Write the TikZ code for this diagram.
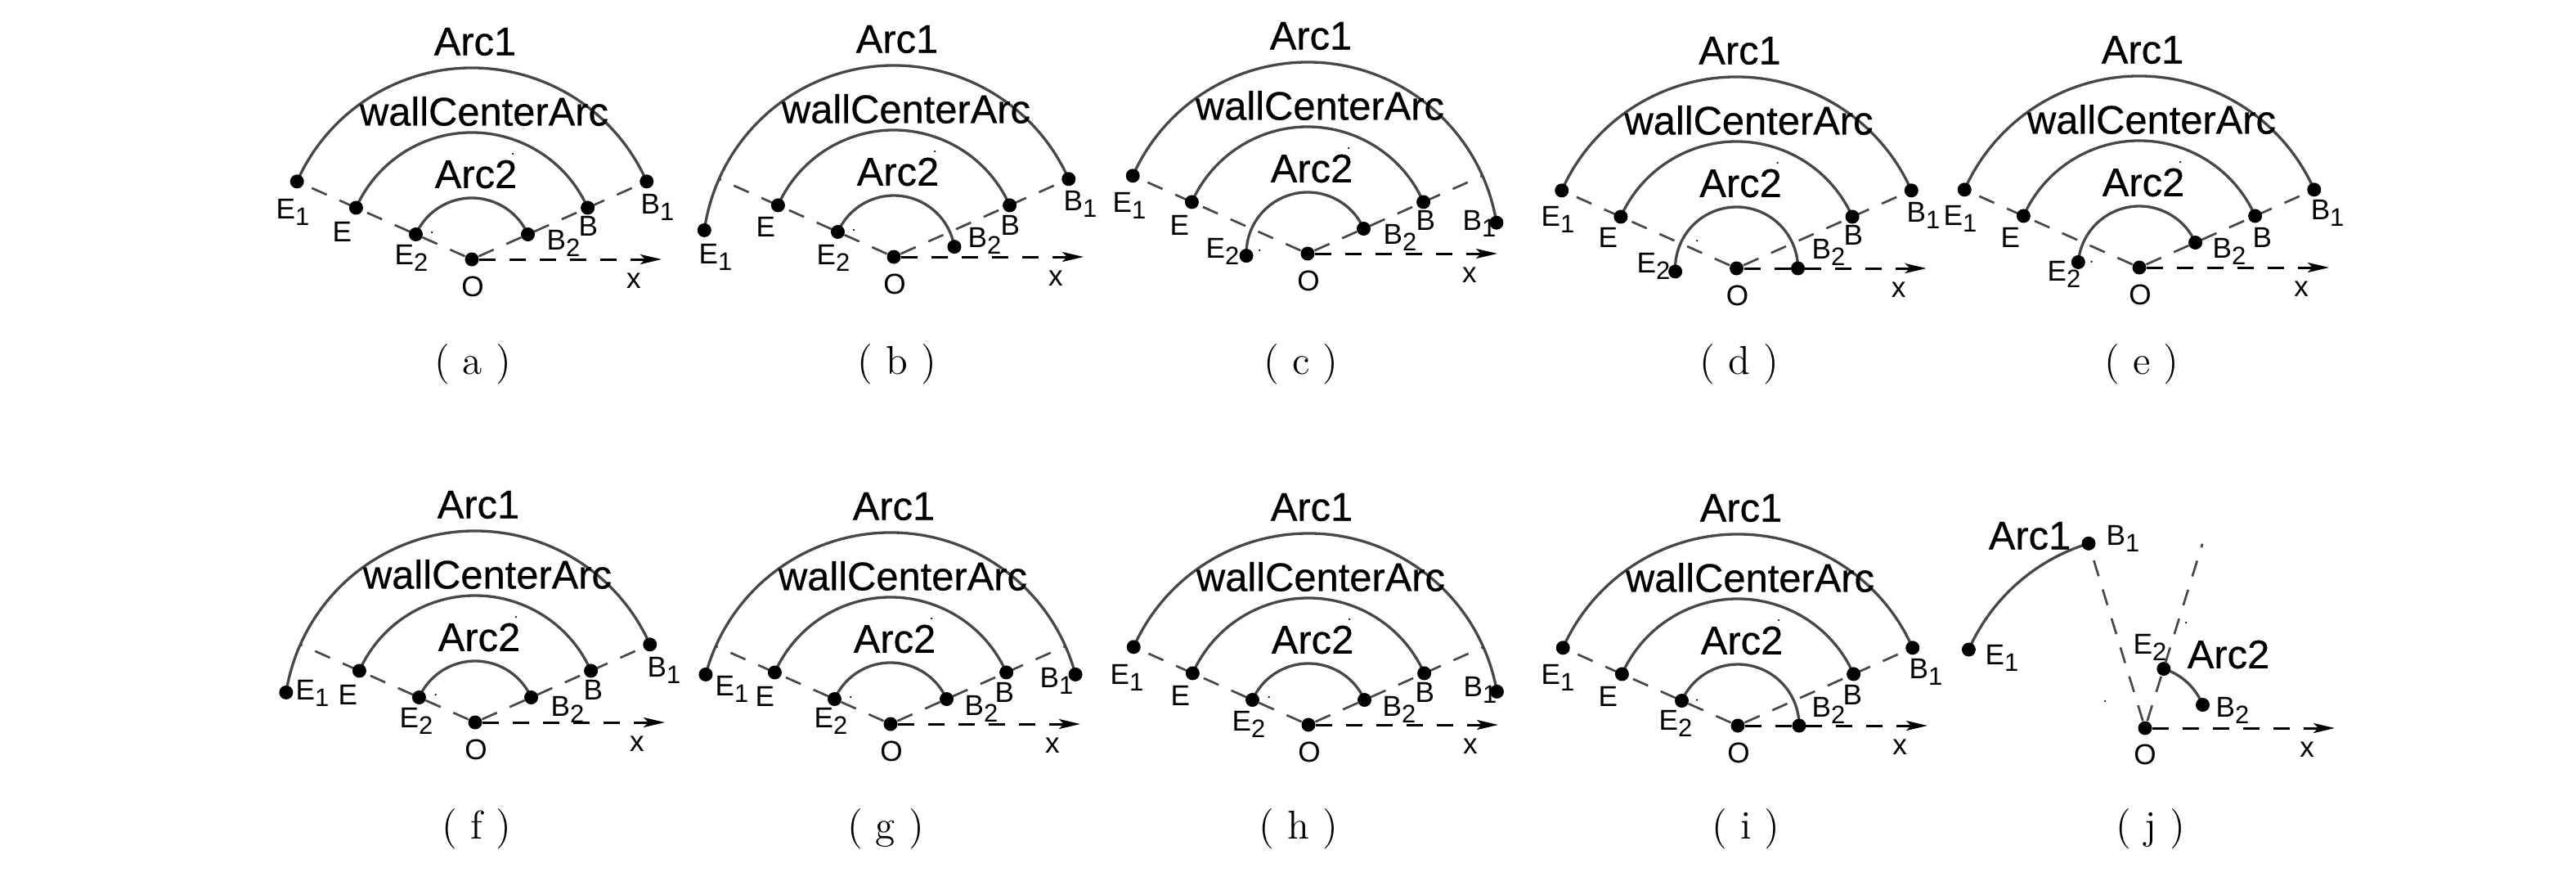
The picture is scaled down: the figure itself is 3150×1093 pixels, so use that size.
\documentclass[tikz,border=0pt]{standalone}
\usepackage{fontspec}
\setsansfont{Liberation Sans}
\newfontfamily\heavyfont{Liberation Sans}[RawFeature={embolden=0.5}]
\usetikzlibrary{arrows.meta, positioning}
\newcommand{\lab}[2]{#1\raisebox{-0.8mm}{\fontsize{8.8pt}{8.8pt}\selectfont #2}}
\tikzset{
  dot/.style={circle, fill=black, inner sep=0pt, minimum size=1.7mm},
  speck/.style={circle, fill=black, inner sep=0pt, minimum size=0.25mm},
  fan/.style={line width=0.33mm, black!72},
  ray/.style={line width=0.27mm, black!72, dash pattern=on 2mm off 1.7mm},
  axis/.style={line width=0.3mm, black, dash pattern=on 2mm off 1.7mm, -{Stealth[length=2.6mm,width=1.2mm,inset=0.6mm]}},
  biglab/.style={font=\heavyfont\fontsize{13.9pt}{14pt}\selectfont, inner sep=0pt},
  ptlab/.style={font=\sffamily\fontsize{10pt}{10pt}\selectfont, inner sep=0pt, anchor=base west},
  midlab/.style={font=\sffamily\fontsize{10pt}{10pt}\selectfont, inner sep=0pt},
  caplab/.style={font=\rmfamily\fontsize{14pt}{14pt}\selectfont, inner sep=0pt}
}
\begin{document}
\begin{tikzpicture}[x=0.1mm, y=0.1mm]
  \useasboundingbox (0,0) rectangle (3150,-1093);
  % Panels a to i: name, O, angles of E1 B1 E2 B2, speck, caption
  \foreach \p/\ox/\oy/\ea/\ba/\eb/\bb/\sa/\cx/\cy in {
    a/577/317/156/24/156/24/146/578/445,
    b/1093/314/172/24/156/9.5/146/1097/445,
    c/1599/310/156/9.3/182/24/176/1591/445,
    d/2123.5/328/156/24/183/0/145/2127/445,
    e/2616/327/156/24/175/24/173/2619/445,
    f/581/883/171/24/156/24/145/583/1013,
    g/1089/885/165/15/156/24/146/1083/1013,
    h/1600/886/156/10/156/24/145/1588/1013,
    i/2125/887/156/24/156/0/148/2135/1013} {
    \begin{scope}[shift={(\ox,-\oy)}]
      \node[dot] (\p-O) at (0,0) {};
      \coordinate (\p-X) at (232,0);
      \coordinate (\p-R) at (24:234);
      \coordinate (\p-L) at (156:234);
      % Arcs
      \draw[fan] (\ba:234) arc[start angle=\ba, end angle=\ea, radius=234];
      \draw[fan] (24:155) arc[start angle=24, end angle=156, radius=155];
      \draw[fan] (\bb:75) arc[start angle=\bb, end angle=\eb, radius=75];
      % Rays
      \draw[ray] (\p-O) -- (\p-R);
      \draw[ray] (\p-O) -- (\p-L);
      \draw[axis] (\p-O) -- (\p-X);
      % Points
      \node[dot] (\p-E1) at (\ea:234) {};
      \node[dot] (\p-B1) at (\ba:234) {};
      \node[dot] (\p-E) at (156:155) {};
      \node[dot] (\p-B) at (24:155) {};
      \node[dot] (\p-E2) at (\eb:75) {};
      \node[dot] (\p-B2) at (\bb:75) {};
      \node[speck] (\p-s1) at (50,129) {};
      \node[speck] (\p-s2) at (\sa:59) {};
      % Names
      \node[biglab] (\p-arcone) at (4,266) {Arc1};
      \node[biglab] (\p-wall) at (15,181) {wallCenterArc};
      \node[biglab] (\p-arctwo) at (5,104) {Arc2};
      \node[midlab] (\p-Olab) at (1,-33) {O};
      \node[midlab] (\p-Xlab) at (198,-26) {x};
    \end{scope}
    \node[caplab] (\p-cap) at (\cx,-\cy) {(\ \p\ )};
  }
  % Point labels: E1, E, E2, B2, B, B1
  \foreach \p/\exa/\eya/\ex/\ey/\exb/\eyb/\bxb/\byb/\bx/\by/\bxa/\bya in {
    a/337/267/406/295/482/323/668/305/707/288/783/261,
    b/854/322/924/289/998/323/1183/302/1223/287/1300/257,
    c/1360/259/1430/287/1474/315/1691/298/1731/281/1788/281,
    d/1884/276/1954/302/2001/333/2215/316/2254/299/2331/271,
    e/2376/275/2446/302/2503/343/2705/315/2754/302/2825/268,
    f/361/855/413/861/488/889/673/875/713/855/791/827,
    g/874/850/923/863/995/889/1179/874/1216/858/1271/840,
    h/1357/836/1431/862/1506/893/1690/875/1730/858/1789/851,
    i/1884/836/1954/863/2028/892/2215/876/2253/861/2334/829} {
    \node[ptlab] (\p-E1lab) at (\exa,-\eya) {\lab{E}{1}};
    \node[ptlab] (\p-Elab) at (\ex,-\ey) {E};
    \node[ptlab] (\p-E2lab) at (\exb,-\eyb) {\lab{E}{2}};
    \node[ptlab] (\p-B2lab) at (\bxb,-\byb) {\lab{B}{2}};
    \node[ptlab] (\p-Blab) at (\bx,-\by) {B};
    \node[ptlab] (\p-B1lab) at (\bxa,-\bya) {\lab{B}{1}};
  }
  % Panel j
  \begin{scope}[shift={(2623,-890)}]
    \node[dot] (j-O) at (0,0) {};
    \coordinate (j-X) at (232,0);
    \coordinate (j-R) at (72.7:236);
    \draw[fan] (107:236) arc[start angle=107, end angle=156, radius=236];
    \draw[fan] (72.5:76) arc[start angle=72.5, end angle=22, radius=76];
    \node[dot] (j-E1) at (156:236) {};
    \node[dot] (j-B1) at (107:236) {};
    \node[dot] (j-E2) at (72.5:76) {};
    \node[dot] (j-B2) at (22:76) {};
    \draw[ray] (j-O) -- (j-B1);
    \draw[ray] (j-O) -- (j-R);
    \draw[axis] (j-O) -- (j-X);
    \node[speck] (j-s1) at (50,129) {};
    \node[speck] (j-s2) at (-49,33) {};
    \node[biglab] (j-arcone) at (-141,235) {Arc1};
    \node[biglab] (j-arctwo) at (102,90) {Arc2};
    \node[midlab] (j-Olab) at (0,-32) {O};
    \node[midlab] (j-Xlab) at (198,-26) {x};
  \end{scope}
  \node[ptlab] (j-E1lab) at (2427,-812) {\lab{E}{1}};
  \node[ptlab] (j-B1lab) at (2575,-666) {\lab{B}{1}};
  \node[ptlab] (j-E2lab) at (2608,-799) {\lab{E}{2}};
  \node[ptlab] (j-B2lab) at (2709,-876) {\lab{B}{2}};
  \node[caplab] (j-cap) at (2630,-1013) {(\ j\ )};
\end{tikzpicture}
\end{document}
